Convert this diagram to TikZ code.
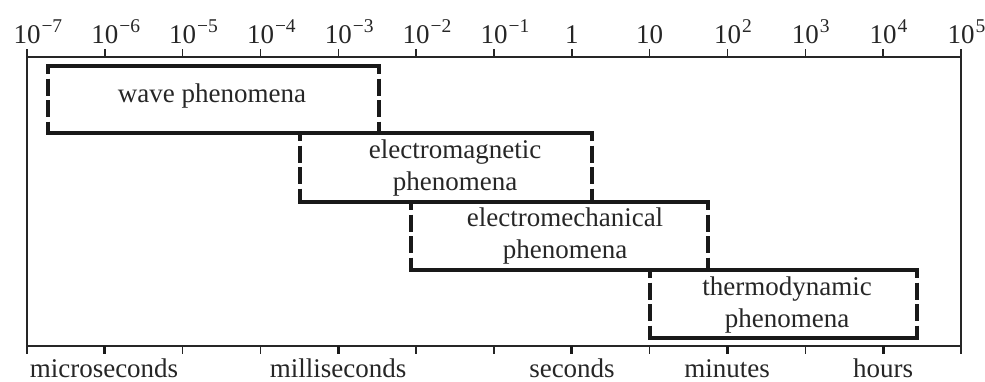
\documentclass[tikz,border=0pt]{standalone}
\usepackage{fontspec}
\setmainfont{Liberation Serif}
\newcommand\pw[1]{10\rlap{\hspace{1pt}\raisebox{10.5pt}{\fontsize{19.5}{19.5}\selectfont #1}}}
\begin{document}
\begin{tikzpicture}[x=1pt,y=-1pt,
  axis/.style={line width=1.5pt, draw=black!85},
  tickthin/.style={line width=1.4pt, draw=black!85},
  tickthick/.style={line width=3pt, draw=black!90},
  edge/.style={line width=4pt, draw=black!90, line cap=rect},
  dashedge/.style={line width=4pt, draw=black!90, dash pattern=on 17pt off 4.5pt, dash phase=9pt},
  lbl/.style={font=\fontsize{27}{32}\selectfont, text=black!85, inner sep=0pt, anchor=base, align=center},
  boxarea/.style={draw=none, inner sep=0pt, outer sep=0pt}
]
\useasboundingbox (0,0) rectangle (985,381);
% axis frame
\coordinate (TL) at (27,57);
\coordinate (TR) at (961,57);
\coordinate (BL) at (27,346);
\coordinate (BR) at (961,346);
\coordinate (BLe) at (27,354);
\coordinate (BRe) at (961,354);
\draw[axis] (TL) -- (TR);
\draw[axis] (BL) -- (BR);
\draw[axis] (TL) -- (BLe);
\draw[axis] (TR) -- (BRe);
% ticks
\foreach \i in {0,...,12} {
  \coordinate (t\i) at ({27+77.833*\i},57);
  \coordinate (b\i) at ({27+77.833*\i},346);
  \draw[tickthin] (t\i) -- ++(0,-8);
}
\foreach \i in {0,2,3,5,6,8,10,12} {\draw[tickthin] (b\i) -- ++(0,8);}
\foreach \i in {1,4,7,9,11} {\draw[tickthick] (b\i) -- ++(0,8);}
% top labels
\node[lbl] (l0) at ({27+77.833*0},43) {\pw{−7}};
\node[lbl] (l1) at ({27+77.833*1},43) {\pw{−6}};
\node[lbl] (l2) at ({27+77.833*2},43) {\pw{−5}};
\node[lbl] (l3) at ({27+77.833*3},43) {\pw{−4}};
\node[lbl] (l4) at ({27+77.833*4},43) {\pw{−3}};
\node[lbl] (l5) at ({27+77.833*5},43) {\pw{−2}};
\node[lbl] (l6) at ({27+77.833*6},43) {\pw{−1}};
\node[lbl] (l7) at ({27+77.833*7},43) {1};
\node[lbl] (l8) at ({27+77.833*8},43) {10};
\node[lbl] (l9) at ({27+77.833*9},43) {\pw{2}};
\node[lbl] (l10) at ({27+77.833*10},43) {\pw{3}};
\node[lbl] (l11) at ({27+77.833*11},43) {\pw{4}};
\node[lbl] (l12) at ({27+77.833*12},43) {\pw{5}};
% bottom labels
\node[lbl] (us) at (104,377) {microseconds};
\node[lbl] (ms) at (338,377) {milliseconds};
\node[lbl] (sec) at (572,377) {seconds};
\node[lbl] (min) at (727,377) {minutes};
\node[lbl] (hr) at (883,377) {hours};
% boxes
\node[boxarea, minimum width=331pt, minimum height=67pt] (wave) at (213.5,99.5) {};
\node[boxarea, minimum width=292pt, minimum height=69pt] (emag) at (446,167.5) {};
\node[boxarea, minimum width=297pt, minimum height=68pt] (emech) at (559.5,236) {};
\node[boxarea, minimum width=267pt, minimum height=68pt] (thermo) at (783.5,304) {};
\foreach \b in {wave,emag,emech,thermo} {
  \draw[edge] (\b.north west) -- (\b.north east);
  \draw[edge] (\b.south west) -- (\b.south east);
  \draw[dashedge] (\b.north west) -- (\b.south west);
  \draw[dashedge] (\b.north east) -- (\b.south east);
}
% box labels (base anchor = baseline of last line)
\node[lbl] (wavet) at (212,102) {wave phenomena};
\node[lbl] (emagt) at (455,190) {electromagnetic\\phenomena};
\node[lbl] (emecht) at (565,258) {electromechanical\\phenomena};
\node[lbl] (thermot) at (787,327) {thermodynamic\\phenomena};
\end{tikzpicture}
\end{document}
